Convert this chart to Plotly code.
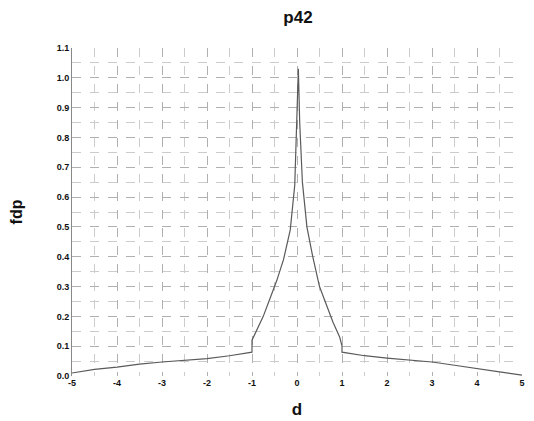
import plotly.graph_objects as go

# ── data ─────────────────────────────────────────────────────────────────────
d_vals = [-5.0, -4.5, -4.0, -3.5, -3.0, -2.5, -2.0, -1.5, -1.0,
          -1.0, -0.9, -0.75, -0.6, -0.45, -0.3, -0.15, -0.05, 0.0, 0.03,
          0.06, 0.12, 0.22, 0.35, 0.5, 0.65, 0.8, 0.95, 1.0,
          1.0, 1.5, 2.0, 2.5, 3.0, 3.5, 4.0, 4.5, 5.0]
fdp_vals = [0.01, 0.022, 0.03, 0.04, 0.047, 0.052, 0.058, 0.068, 0.08,
            0.12, 0.15, 0.2, 0.26, 0.32, 0.39, 0.49, 0.64, 0.85, 1.03,
            0.85, 0.65, 0.5, 0.4, 0.3, 0.24, 0.18, 0.13, 0.1,
            0.08, 0.068, 0.06, 0.053, 0.047, 0.036, 0.026, 0.014, 0.003]

x_ticks = [-5, -4, -3, -2, -1, 0, 1, 2, 3, 4, 5]
y_ticks = [0.0, 0.1, 0.2, 0.3, 0.4, 0.5, 0.6, 0.7, 0.8, 0.9, 1.0, 1.1]

GRID = "#b0b0b0"
MINOR = "#cccccc"
FONT = "Liberation Sans, Arial, sans-serif"

fig = go.Figure()

fig.add_trace(go.Scatter(
    x=d_vals,
    y=fdp_vals,
    mode="lines",
    line=dict(color="#5a5a5a", width=1.2),
    showlegend=False,
))

# the page body adds an 8px offset, margins are compensated for it
fig.update_layout(
    width=534,
    height=421,
    paper_bgcolor="white",
    plot_bgcolor="white",
    margin=dict(l=64, r=20, t=40, b=53),
    font=dict(family=FONT, color="#111111"),
    title=dict(
        text="<b>p42</b>",
        x=0.543, xanchor="center",
        y=0.992, yanchor="top",
        font=dict(size=17, family=FONT, color="#111111"),
    ),
    xaxis=dict(
        range=[-5, 5],
        tickmode="array",
        tickvals=x_ticks,
        ticktext=[f"<b>{v}</b>" for v in x_ticks],
        tickfont=dict(size=9, family=FONT, color="#111111"),
        showgrid=True,
        gridcolor=GRID,
        griddash="dash",
        gridwidth=1,
        minor=dict(dtick=0.5, showgrid=True, gridcolor=MINOR, griddash="dash"),
        zeroline=False,
        showline=False,
        ticks="",
        automargin=False,
        title=dict(text="<b>d</b>", font=dict(size=17, family=FONT), standoff=16),
    ),
    yaxis=dict(
        range=[0, 1.1],
        tickmode="array",
        tickvals=y_ticks,
        ticktext=[f"<b>{v:.1f}</b>" for v in y_ticks],
        tickfont=dict(size=9, family=FONT, color="#111111"),
        showgrid=True,
        gridcolor=GRID,
        griddash="dash",
        gridwidth=1,
        minor=dict(dtick=0.05, showgrid=True, gridcolor=MINOR, griddash="dash"),
        zeroline=False,
        showline=True,
        linecolor="#888888",
        linewidth=1,
        ticks="",
        automargin=False,
        title=dict(text="<b>fdp</b>", font=dict(size=16, family=FONT), standoff=34),
    ),
)

fig.write_html("out.html")
